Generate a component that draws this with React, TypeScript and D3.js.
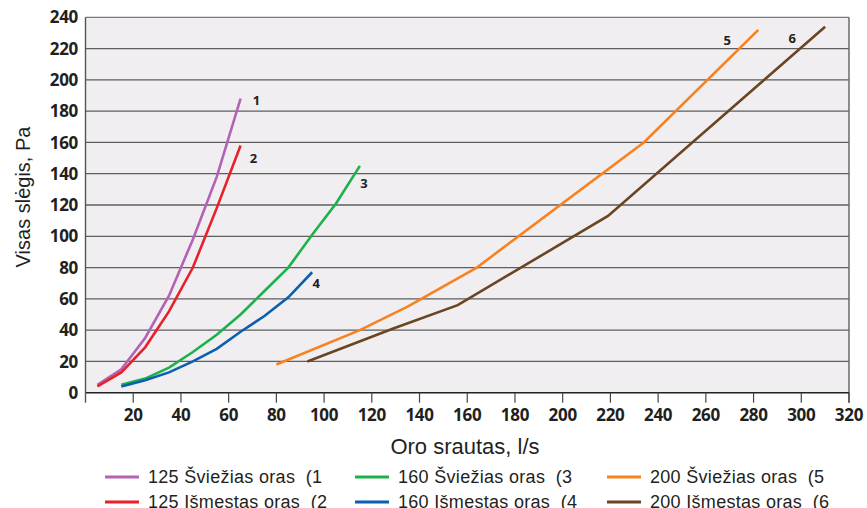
import React from 'react';
import * as d3 from 'd3';

// ---- data ----
const xTickValues = [20, 40, 60, 80, 100, 120, 140, 160, 180, 200, 220, 240, 260, 280, 300, 320];
const yTickValues = [0, 20, 40, 60, 80, 100, 120, 140, 160, 180, 200, 220, 240];

const s1Flow = [5, 15, 25, 35, 45, 55, 65];
const s1Pressure = [5, 15, 35, 62, 98, 138, 188];

const s2Flow = [5, 15, 25, 35, 45, 55, 65];
const s2Pressure = [4, 13, 29, 52, 80, 118, 158];

const s3Flow = [15, 25, 35, 45, 55, 65, 75, 85, 95, 105, 115];
const s3Pressure = [5, 9, 16, 26, 37, 50, 65, 80, 101, 121, 145];

const s4Flow = [15, 25, 35, 45, 55, 65, 75, 85, 95];
const s4Pressure = [4, 8, 13, 20, 28, 39, 49, 61, 77];

const s5Flow = [80, 115, 135, 164, 234, 282];
const s5Pressure = [18, 40, 55, 80, 160, 232];

const s6Flow = [93, 129, 156, 219, 310];
const s6Pressure = [20, 41, 56, 113, 234];

const seriesNames = [
  '125 Šviežias oras  (1',
  '125 Išmestas oras  (2',
  '160 Šviežias oras  (3',
  '160 Išmestas oras  (4',
  '200 Šviežias oras  (5',
  '200 Išmestas oras  (6',
];
const seriesNumbers = ['1', '2', '3', '4', '5', '6'];
const xTitle = 'Oro srautas, l/s';
const yTitle = 'Visas slėgis, Pa';

// ---- styling ----
const W = 867;
const H = 508;
const colors = ['#b462b4', '#e8202a', '#1db14b', '#0b5faf', '#f7821f', '#6b4421'];
const labelOffsets: [number, number][] = [
  [16, 2], [13, 13], [4, 17], [4, 11], [-31, 11], [-33, 12],
];
const legendCols = [105, 355, 607];
const legendRows = [477, 502];

const flows = [s1Flow, s2Flow, s3Flow, s4Flow, s5Flow, s6Flow];
const pressures = [s1Pressure, s2Pressure, s3Pressure, s4Pressure, s5Pressure, s6Pressure];

export default function App() {
  const x = d3.scaleLinear().domain([0, 320]).range([85.5, 849]);
  const y = d3.scaleLinear().domain([0, 240]).range([392.7, 17.3]);
  const line = d3
    .line<[number, number]>()
    .x((d) => x(d[0]))
    .y((d) => y(d[1]));

  const boldFont = '"Open Sans", "DejaVu Sans", sans-serif';
  const normFont = '"Liberation Sans", Arial, sans-serif';

  return (
    <svg
      width={W}
      height={H}
      style={{ position: 'absolute', left: 0, top: 0, background: '#fff' }}
    >
      {/* plot background */}
      <rect x={x(0)} y={y(240)} width={x(320) - x(0)} height={y(0) - y(240)} fill="#f0eef1" />
      {/* gridlines */}
      {yTickValues
        .filter((v) => v > 0)
        .map((v) => (
          <line
            key={'g' + v}
            x1={x(0)}
            x2={x(320)}
            y1={y(v)}
            y2={y(v)}
            stroke={v === 240 ? '#7a7a7a' : '#5e5e5e'}
            strokeWidth={1.3}
          />
        ))}
      {/* right border */}
      <line x1={x(320)} x2={x(320)} y1={y(240)} y2={y(0) + 10} stroke="#6a6a6a" strokeWidth={1.5} />
      {/* x axis */}
      <line x1={x(0)} x2={x(320)} y1={y(0)} y2={y(0)} stroke="#222" strokeWidth={1.4} />
      {/* y axis */}
      <line x1={x(0)} x2={x(0)} y1={y(240)} y2={y(0) + 10} stroke="#555" strokeWidth={1.4} />
      {xTickValues.map((v) => (
        <g key={'xt' + v}>
          <line x1={x(v)} x2={x(v)} y1={y(0)} y2={y(0) + 10} stroke="#444" strokeWidth={1.2} />
          <text
            x={x(v)}
            y={y(0) + 28}
            textAnchor="middle"
            fontFamily={boldFont}
            fontWeight={700}
            fontSize={17}
            fill="#231f20"
            letterSpacing={-0.3}
          >
            {v}
          </text>
        </g>
      ))}
      {yTickValues.map((v) => (
        <text
          key={'yt' + v}
          x={78}
          y={y(v)}
          dy="0.36em"
          textAnchor="end"
          fontFamily={boldFont}
          fontWeight={700}
          fontSize={17}
          fill="#231f20"
          letterSpacing={-0.3}
        >
          {v}
        </text>
      ))}
      {/* series */}
      {flows.map((fl, i) => {
        const pts: [number, number][] = fl.map((f, j) => [f, pressures[i][j]]);
        const last = pts[pts.length - 1];
        return (
          <g key={'s' + i}>
            <path d={line(pts) || ''} fill="none" stroke={colors[i]} strokeWidth={2.6} />
            <text
              x={x(last[0]) + labelOffsets[i][0]}
              y={y(last[1]) + labelOffsets[i][1]}
              dy="0.36em"
              textAnchor="middle"
              fontFamily={boldFont}
              fontWeight={700}
              fontSize={13}
              fill="#231f20"
            >
              {seriesNumbers[i]}
            </text>
          </g>
        );
      })}
      {/* axis titles */}
      <text
        x={465}
        y={446}
        dy="0.36em"
        textAnchor="middle"
        fontFamily={normFont}
        fontSize={22}
        fill="#231f20"
      >
        {xTitle}
      </text>
      <text
        transform={`translate(23, 197) rotate(-90)`}
        dy="0.36em"
        textAnchor="middle"
        fontFamily={normFont}
        fontSize={20}
        fill="#231f20"
      >
        {yTitle}
      </text>
      {/* legend */}
      {seriesNames.map((name, i) => {
        const col = Math.floor(i / 2);
        const row = i % 2;
        const lx = legendCols[col];
        const ly = legendRows[row];
        return (
          <g key={'l' + i}>
            <line x1={lx} x2={lx + 34} y1={ly} y2={ly} stroke={colors[i]} strokeWidth={3} />
            <text
              x={lx + 43}
              y={ly}
              dy="0.36em"
              fontFamily={normFont}
              fontSize={18}
              letterSpacing={0.3}
              fill="#231f20"
              style={{ whiteSpace: 'pre' }}
            >
              {name}
            </text>
          </g>
        );
      })}
    </svg>
  );
}
